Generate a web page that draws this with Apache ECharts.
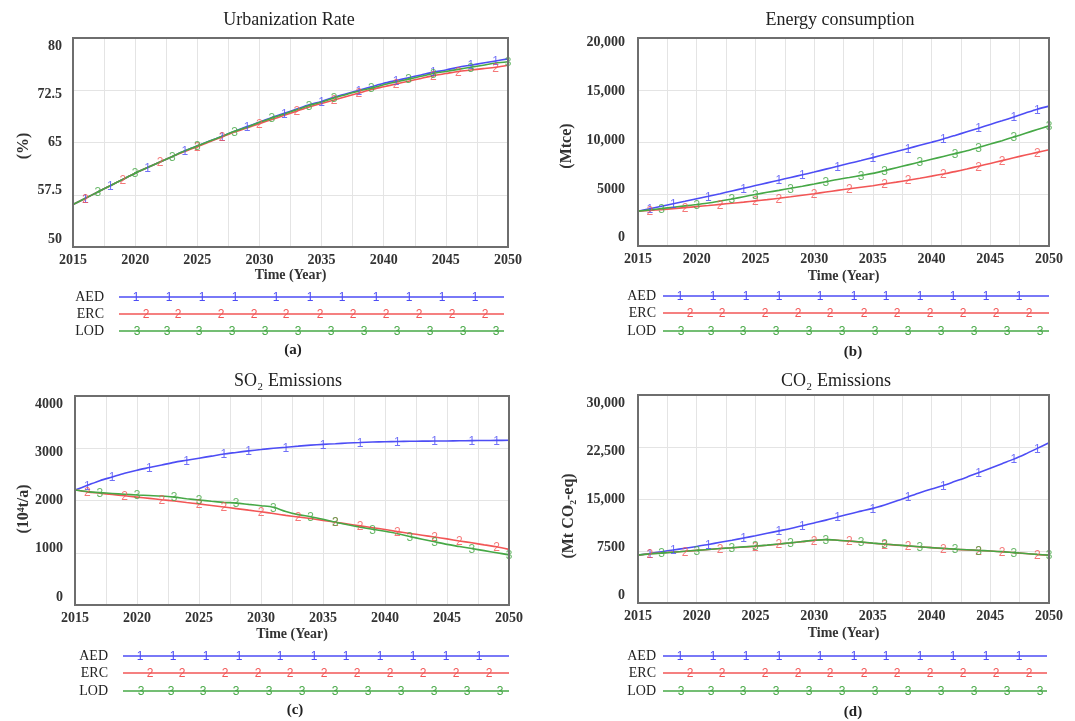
<!DOCTYPE html>
<html><head><meta charset="utf-8">
<script src="https://cdn.jsdelivr.net/npm/echarts@6/dist/echarts.min.js"></script>
<style>html,body{margin:0;padding:0;background:#fff}#c{width:1075px;height:721px}</style>
</head><body><div id="c"></div>
<script>
// ---------------- DATA ----------------
const years = [2015,2016,2017,2018,2019,2020,2021,2022,2023,2024,2025,2026,2027,2028,2029,2030,2031,2032,2033,2034,2035,2036,2037,2038,2039,2040,2041,2042,2043,2044,2045,2046,2047,2048,2049,2050];
const seriesNames = ['AED','ERC','LOD'];

const urbanAED = [56.1,57.0,57.9,58.8,59.7,60.6,61.4,62.2,63.0,63.8,64.5,65.2,65.9,66.6,67.3,67.9,68.6,69.2,69.8,70.4,70.9,71.5,72.0,72.5,73.0,73.5,73.9,74.3,74.7,75.1,75.4,75.8,76.1,76.4,76.7,77.0];
const urbanERC = [56.1,57.0,57.9,58.8,59.7,60.6,61.4,62.2,63.0,63.7,64.4,65.1,65.8,66.5,67.1,67.7,68.3,68.9,69.5,70.1,70.6,71.1,71.6,72.1,72.6,73.0,73.4,73.8,74.2,74.6,74.9,75.2,75.4,75.6,75.8,76.1];
const urbanLOD = [56.1,57.0,57.9,58.8,59.7,60.6,61.4,62.2,63.0,63.8,64.5,65.2,65.9,66.6,67.2,67.9,68.5,69.1,69.7,70.3,70.8,71.4,71.9,72.4,72.8,73.3,73.7,74.1,74.5,74.9,75.2,75.5,75.8,76.1,76.4,76.6];

const energyAED = [3350,3590,3830,4070,4300,4540,4780,5030,5290,5550,5810,6070,6330,6590,6850,7110,7390,7670,7950,8220,8500,8790,9080,9380,9680,9980,10290,10630,10980,11330,11690,12040,12400,12780,13150,13450];
const energyERC = [3350,3420,3500,3590,3690,3790,3890,4000,4110,4220,4340,4460,4590,4730,4880,5030,5190,5350,5500,5650,5800,5970,6140,6330,6520,6720,6930,7150,7400,7670,7940,8210,8480,8750,9000,9250];
const energyLOD = [3350,3470,3600,3730,3860,3990,4130,4320,4520,4740,4960,5160,5350,5550,5750,5960,6180,6400,6590,6790,6980,7250,7530,7800,8070,8340,8610,8880,9160,9480,9800,10130,10480,10840,11200,11550];

const so2AED = [2200,2290,2380,2450,2520,2580,2630,2680,2730,2770,2810,2850,2890,2920,2950,2975,3000,3020,3040,3060,3075,3085,3100,3110,3120,3125,3130,3133,3136,3138,3140,3143,3146,3148,3150,3153];
const so2ERC = [2200,2165,2140,2115,2090,2065,2040,2015,1990,1962,1935,1905,1875,1845,1815,1785,1750,1715,1685,1655,1620,1585,1550,1515,1480,1445,1405,1370,1335,1300,1265,1225,1190,1150,1115,1065];
const so2LOD = [2200,2170,2150,2135,2120,2105,2095,2085,2065,2035,2010,1985,1965,1950,1925,1900,1870,1790,1730,1690,1640,1585,1535,1490,1450,1410,1365,1310,1260,1210,1160,1120,1080,1040,1000,960];

const co2AED = [6900,7150,7400,7650,7900,8150,8450,8750,9050,9380,9700,10050,10400,10750,11150,11550,11950,12400,12850,13250,13650,14150,14700,15300,15900,16450,16950,17550,18150,18800,19450,20100,20750,21500,22300,23100];
const co2ERC = [6900,7100,7220,7340,7460,7590,7720,7850,7960,8070,8190,8330,8490,8660,8850,9030,9150,9050,8920,8780,8620,8480,8350,8220,8090,7980,7860,7750,7660,7580,7500,7400,7260,7130,7000,6880];
const co2LOD = [6900,7080,7200,7330,7460,7590,7720,7850,7970,8090,8210,8350,8510,8680,8860,9040,9140,9060,8940,8800,8640,8500,8370,8240,8110,7990,7880,7770,7680,7590,7510,7410,7270,7140,7010,6900];

const urbanTicks = ['50','57.5','65','72.5','80'];
const energyTicks = ['0','5000','10,000','15,000','20,000'];
const so2Ticks = ['0','1000','2000','3000','4000'];
const co2Ticks = ['0','7500','15,000','22,500','30,000'];

const markerYearsAED = [2016,2018,2021,2024,2027,2029,2032,2035,2038,2041,2044,2047,2049];
const markerYearsERC = [2016,2019,2022,2025,2027,2030,2033,2036,2038,2041,2044,2046,2049];
const markerYearsLOD = [2017,2020,2023,2025,2028,2031,2034,2036,2039,2042,2044,2047,2050];

// ---------------- LAYOUT / STYLE ----------------
const serif = '"Liberation Serif","Times New Roman",serif';
const sans = '"Liberation Sans",Arial,sans-serif';
const colors = ['#4d4df5', '#f25656', '#46a846'];
const glyphs = ['1','2','3'];
const markerYears = [markerYearsAED, markerYearsERC, markerYearsLOD];
const legendOffsets = [
  [17,50,83,116,157,191,223,257,290,323,356],
  [27,59,102,135,167,201,234,267,300,333,366],
  [18,48,80,113,146,179,212,245,278,311,344,377]
];

const panels = [
  {title:'Urbanization Rate', yName:'(%)', values:[urbanAED,urbanERC,urbanLOD], min:50, max:80, ticks:urbanTicks, caption:'(a)',
   grid:{left:73,top:38,width:435,height:209}, titlePos:[289,20], yNamePos:[24,146], nameGap:21, labelMargin:11, pad:[2,2],
   legend:{right:104, x0:119, x1:504, rows:[297,314,331], cap:[293,350]}},
  {title:'Energy consumption', yName:'(Mtce)', values:[energyAED,energyERC,energyLOD], min:0, max:20000, ticks:energyTicks, caption:'(b)',
   grid:{left:638,top:38,width:411,height:208}, titlePos:[840,20], yNamePos:[567,146], nameGap:23, labelMargin:13, pad:[2,1],
   legend:{right:656, x0:663, x1:1049, rows:[296,313,331], cap:[853,352]}},
  {title:'SO\u2082 Emissions', yName:'(10\u2074t/a)', values:[so2AED,so2ERC,so2LOD], min:0, max:4000, ticks:so2Ticks, caption:'(c)',
   grid:{left:75,top:396,width:434,height:209}, titlePos:[288,381], yNamePos:[24,509], nameGap:22, labelMargin:12, pad:[2,2],
   legend:{right:108, x0:123, x1:509, rows:[656,673,691], cap:[295,710]}},
  {title:'CO\u2082 Emissions', yName:'(Mt CO\u2082-eq)', values:[co2AED,co2ERC,co2LOD], min:0, max:30000, ticks:co2Ticks, caption:'(d)',
   grid:{left:638,top:395,width:411,height:208}, titlePos:[836,381], yNamePos:[569,516], nameGap:23, labelMargin:13, pad:[2,2],
   legend:{right:656, x0:663, x1:1047, rows:[656,673,691], cap:[853,712]}}
];

const grids=[], xAxes=[], yAxes=[], series=[], graphics=[], titles=[];
const gridColor = '#e4e4e4';
const labelColor = '#333';

panels.forEach((p, i) => {
  const g = p.grid;
  grids.push({left:g.left, top:g.top, width:g.width, height:g.height, show:false, containLabel:false});
  titles.push({text:p.title, left:p.titlePos[0], top:p.titlePos[1]-9, textAlign:'center', textVerticalAlign:'top', padding:0,
    textStyle:{fontFamily:serif, fontSize:18, fontWeight:'normal', color:'#222'}});
  xAxes.push({type:'value', gridIndex:i, min:2015, max:2050, interval:2.5,
    name:'Time (Year)', nameLocation:'middle', nameGap:p.nameGap,
    nameTextStyle:{fontFamily:serif, fontWeight:'bold', fontSize:14, color:labelColor},
    axisLine:{show:false}, axisTick:{show:false},
    axisLabel:{margin:6, fontFamily:serif, fontWeight:'bold', fontSize:14, color:labelColor,
      formatter:v => (Math.abs(v % 5) < 1e-6 ? String(Math.round(v)) : '')},
    splitLine:{show:true, showMinLine:false, showMaxLine:false, lineStyle:{color:gridColor, width:1}}});
  // data axis (hidden)
  yAxes.push({type:'value', gridIndex:i, position:'left', min:p.min, max:p.max, show:false});
  // gridline axis (4 equal bands)
  yAxes.push({type:'value', gridIndex:i, position:'left', min:0, max:4, interval:1,
    axisLine:{show:false}, axisTick:{show:false}, axisLabel:{show:false},
    splitLine:{show:true, showMinLine:false, showMaxLine:false, lineStyle:{color:gridColor, width:1}}});
  // tick label axis
  const total = 48 + p.pad[0] + p.pad[1];
  yAxes.push({type:'value', gridIndex:i, position:'left', min:0, max:total, interval:1,
    axisLine:{show:false}, axisTick:{show:false}, splitLine:{show:false},
    axisLabel:{margin:p.labelMargin, fontFamily:serif, fontWeight:'bold', fontSize:14, color:labelColor,
      formatter:v => { const n = Math.round(v) - p.pad[0]; return (n >= 0 && n % 12 === 0 && n/12 < p.ticks.length) ? p.ticks[n/12] : ''; }}});

  p.values.forEach((arr, s) => {
    series.push({type:'line', name:seriesNames[s], xAxisIndex:i, yAxisIndex:3*i,
      data:years.map((y,k) => [y, arr[k]]), showSymbol:false, smooth:0.3,
      lineStyle:{color:colors[s], width:1.6}, itemStyle:{color:colors[s]}, z:2});
    series.push({type:'scatter', name:seriesNames[s]+' markers', xAxisIndex:i, yAxisIndex:3*i,
      data:markerYears[s].map(y => [y, arr[years.indexOf(y)]]), symbol:'circle', symbolSize:2,
      itemStyle:{color:'rgba(0,0,0,0)'}, silent:true, z:4,
      label:{show:true, position:'inside', align:'center', verticalAlign:'middle', offset:[0,1],
        formatter:glyphs[s], color:colors[s], fontSize:12, fontFamily:sans}});
  });

  // frame
  graphics.push({type:'rect', shape:{x:g.left, y:g.top, width:g.width, height:g.height},
    style:{fill:null, stroke:'#6e6e6e', lineWidth:2}, z:100, silent:true});
  // y axis name
  graphics.push({type:'text', x:p.yNamePos[0], y:p.yNamePos[1], rotation:Math.PI/2,
    style:{text:p.yName, font:'bold 16px '+serif, fill:labelColor, textAlign:'center', textVerticalAlign:'middle', align:'center', verticalAlign:'middle'}});
  // legend rows
  const lg = p.legend;
  seriesNames.forEach((nm, s) => {
    const yy = lg.rows[s];
    graphics.push({type:'text', x:lg.right, y:yy,
      style:{text:nm, font:'14px '+serif, fill:'#222', textAlign:'right', textVerticalAlign:'middle', align:'right', verticalAlign:'middle'}});
    graphics.push({type:'line', shape:{x1:lg.x0, y1:yy, x2:lg.x1, y2:yy}, style:{stroke:colors[s], lineWidth:1.6}});
    legendOffsets[s].forEach(o => graphics.push({type:'text', x:lg.x0 + o, y:yy + 1,
      style:{text:glyphs[s], font:'12px '+sans, fill:colors[s], textAlign:'center', textVerticalAlign:'middle', align:'center', verticalAlign:'middle'}}));
  });
  graphics.push({type:'text', x:lg.cap[0], y:lg.cap[1],
    style:{text:p.caption, font:'bold 15px '+serif, fill:'#222', textAlign:'center', textVerticalAlign:'middle', align:'center', verticalAlign:'middle'}});
});

const chart = echarts.init(document.getElementById('c'), null, {renderer:'canvas'});
chart.setOption({
  backgroundColor:'#ffffff',
  animation:false,
  title:titles,
  grid:grids,
  xAxis:xAxes,
  yAxis:yAxes,
  series:series,
  graphic:graphics
});
</script>
</body></html>
